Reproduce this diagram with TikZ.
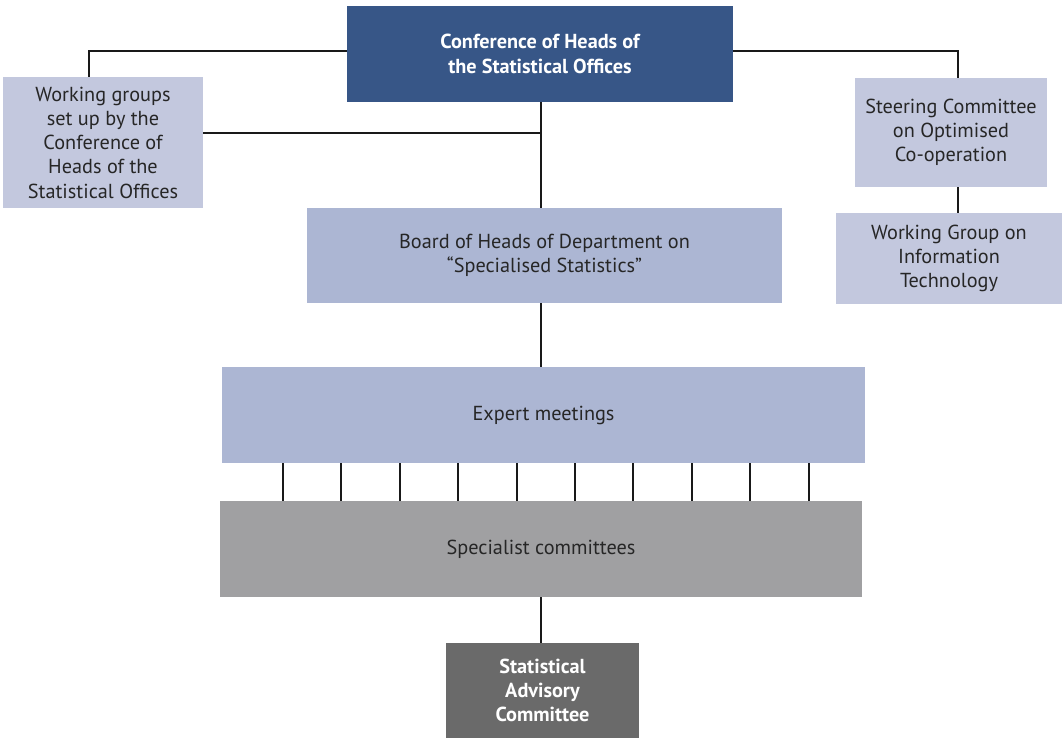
\documentclass[tikz,border=0pt]{standalone}
\usepackage{fontspec}
\setmainfont{PT Sans}
\begin{document}
\begin{tikzpicture}[x=0.75pt,y=-0.75pt,
  box/.style={draw=none, align=center, inner sep=0pt, text=black!85,
    font=\fontsize{15.2}{18.2}\selectfont},
  lightbox/.style={box, fill=lightc},
  midbox/.style={box, fill=midc},
  conn/.style={line width=1.5pt, black!90}]
\definecolor{darkc}{HTML}{375687}
\definecolor{lightc}{HTML}{C3C8DE}
\definecolor{midc}{HTML}{ACB6D3}
\definecolor{grayc}{HTML}{A0A0A2}
\definecolor{dgrayc}{HTML}{6A6A6A}
\useasboundingbox (0,0) rectangle (1062,740);
% nodes
\node[box, fill=darkc, text=white, font=\fontsize{15.2}{18.2}\selectfont\bfseries,
  minimum width=386*0.75pt, minimum height=96*0.75pt] (conf) at (540,54)
  {Conference of Heads of\\the Statistical Offices};
\node[lightbox, minimum width=200*0.75pt, minimum height=131*0.75pt] (wg) at (103,142.5)
  {Working groups\\set up by the\\Conference of\\Heads of the\\Statistical Offices};
\node[lightbox, minimum width=192*0.75pt, minimum height=109*0.75pt] (steer) at (951,132.5)
  {Steering Committee\\on Optimised\\Co-operation};
\node[lightbox, minimum width=226*0.75pt, minimum height=91*0.75pt] (wgit) at (949,258.5)
  {Working Group on\\Information\\Technology};
\node[midbox, minimum width=475*0.75pt, minimum height=95*0.75pt] (board) at (544.5,255.5)
  {Board of Heads of Department on\\“Specialised Statistics”};
\node[midbox, minimum width=643*0.75pt, minimum height=96*0.75pt] (expert) at (543.5,415)
  {Expert meetings};
\node[box, fill=grayc, minimum width=642*0.75pt, minimum height=96*0.75pt] (spec) at (541,549)
  {Specialist committees};
\node[box, fill=dgrayc, text=white, font=\fontsize{15.2}{18.2}\selectfont\bfseries,
  minimum width=193*0.75pt, minimum height=95*0.75pt] (adv) at (542.5,690.5)
  {Statistical\\Advisory\\Committee};
% connectors
\coordinate (cl) at (conf.west |- 0,51);
\coordinate (cr) at (conf.east |- 0,51);
\draw[conn] (cl) -| (89,0 |- wg.north);
\draw[conn] (cr) -| (958,0 |- steer.north);
\draw[conn] (541,0 |- conf.south) -- (541,0 |- board.north);
\draw[conn] (wg.east |- 0,133) -- (541,133);
\draw[conn] (958,0 |- steer.south) -- (958,0 |- wgit.north);
\draw[conn] (541,0 |- board.south) -- (541,0 |- expert.north);
\foreach \i in {0,...,9}
  \draw[conn] (283+\i*58.4,0 |- expert.south) -- (283+\i*58.4,0 |- spec.north);
\draw[conn] (541,0 |- spec.south) -- (541,0 |- adv.north);
\end{tikzpicture}
\end{document}
